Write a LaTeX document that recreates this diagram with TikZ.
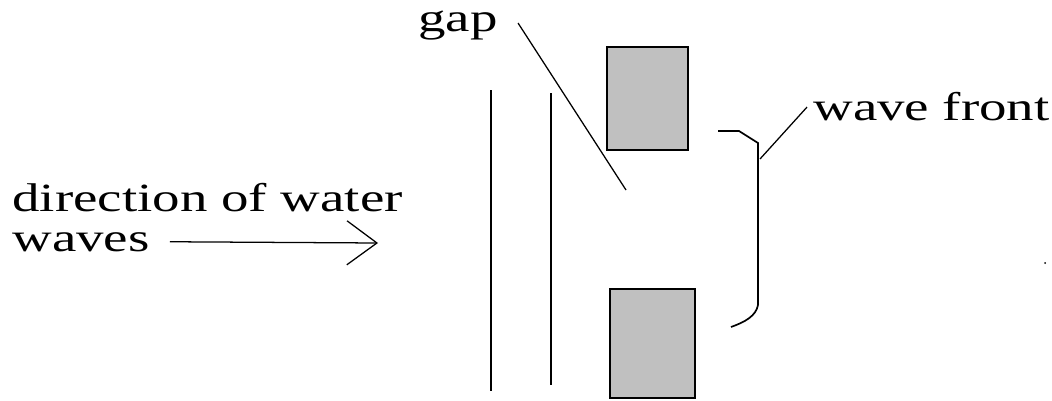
\documentclass[tikz,border=0pt]{standalone}
\usepackage{fontspec}
\setmainfont{Liberation Serif}
\usetikzlibrary{arrows.meta,calc}
\definecolor{silver}{RGB}{192,192,192}

\begin{document}
\begin{tikzpicture}[x=0.025cm,y=-0.025cm,
  lbl/.style={inner sep=0pt,anchor=base west,xscale=1.37,font=\fontsize{28.5}{28.5}\selectfont},
  block/.style={draw,line width=1.4pt,fill=silver},
  wall/.style={line width=1.4pt},
  leader/.style={line width=0.9pt}]
  \useasboundingbox (0,0) rectangle (1052,401);
  % labels
  \node[lbl] (dir)   at (12,211)  {direction of water};
  \node[lbl] (waves) at (12,251)  {waves};
  \node[lbl] (gap)   at (418,31)  {gap};
  \node[lbl] (front) at (813,120) {wave front};
  % barrier blocks either side of the gap
  \draw[block] (607,47) rectangle (688,150);
  \draw[block] (610,289) rectangle (695,398);
  % incoming wave fronts
  \draw[wall] (491,90) -- (491,391);
  \draw[wall] (551,93) -- (551,385);
  % direction arrow
  \coordinate (tip) at (378,243);
  \draw[leader,-{Straight Barb[length=0.75cm,width=1.1cm]}] ($(waves.east)+(20,0)$) -- (tip);
  % pointer to the gap
  \coordinate (gapmid) at (626,190);
  \draw[leader] ($(gap.east)+(20,-2)$) -- (gapmid);
  % bracket for the wave front
  \draw[line width=1.2pt] (718,131) -- (739,131) -- (758,143) -- (758,305)
    .. controls (756,316) and (745,322) .. (731,327);
  \coordinate (brace) at (760,159);
  \draw[leader] (brace) -- ($(front.west)+(-6,1)$);
  \fill (1045,263) circle (1);
\end{tikzpicture}
\end{document}
